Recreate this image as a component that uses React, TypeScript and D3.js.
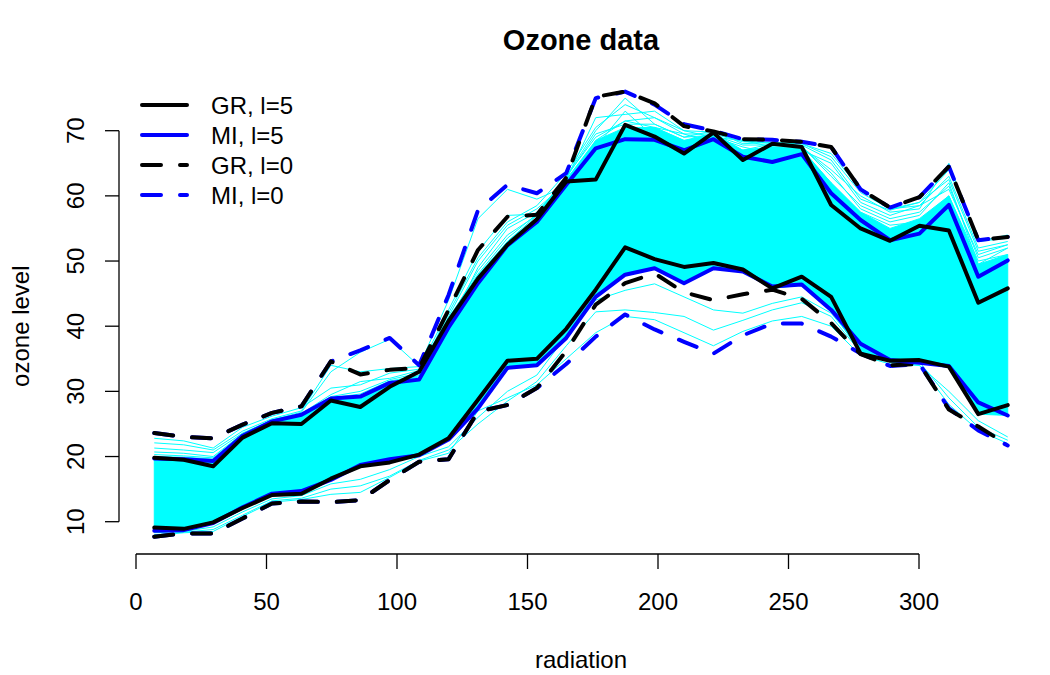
import React from 'react';
import * as d3 from 'd3';

const width = 1050;
const height = 675;
const font = '"Liberation Sans", Arial, Helvetica, sans-serif';

// radiation grid the bands are evaluated on
const radiation = [7, 18.28, 29.55, 40.83, 52.1, 63.38, 74.66, 85.93, 97.21, 108.48, 119.76, 131.03, 142.31, 153.59, 164.86,
  176.14, 187.41, 198.69, 209.97, 221.24, 232.52, 243.79, 255.07, 266.34, 277.62, 288.9, 300.17, 311.45, 322.72, 334];

// bounds, l=5
const grUp5 = [19.8, 19.5, 18.5, 22.9, 25.1, 25.0, 28.6, 27.6, 30.7, 33.0, 40.8, 47.3, 52.5, 56.4, 62.2, 62.5, 70.9, 69.1, 66.5, 69.7,
  65.5, 68.0, 67.5, 58.6, 55.0, 53.1, 55.4, 54.7, 43.6, 45.8];
const grLo5 = [9.1, 8.9, 9.9, 12.1, 14.1, 14.3, 16.6, 18.5, 19.1, 20.3, 22.8, 28.7, 34.7, 35.0, 39.6, 45.6, 52.1, 50.3, 49.1, 49.7,
  48.7, 45.8, 47.6, 44.5, 35.8, 34.7, 34.8, 33.8, 26.5, 27.9];
const miUp5 = [19.7, 19.6, 19.3, 23.2, 25.4, 26.4, 28.9, 29.2, 31.3, 31.8, 39.8, 46.6, 52.4, 56.0, 61.7, 67.3, 68.7, 68.6, 67.0, 68.7,
  66.0, 65.2, 66.4, 60.4, 56.3, 53.2, 54.2, 58.6, 47.6, 50.1];
const miLo5 = [8.6, 8.7, 9.8, 12.2, 14.3, 14.7, 16.4, 18.7, 19.6, 20.2, 22.6, 27.4, 33.6, 34.0, 38.2, 44.5, 47.9, 48.9, 46.6, 48.9,
  48.4, 46.1, 46.4, 42.5, 37.3, 34.8, 34.4, 33.9, 28.3, 26.3];

// bounds, l=0
const grUp0 = [23.6, 23.0, 22.8, 24.9, 26.7, 27.7, 34.6, 32.6, 33.3, 33.6, 42.5, 51.7, 56.8, 57.1, 62.8, 75.2, 76.0, 74.2, 70.7, 69.9,
  68.7, 68.6, 68.3, 67.5, 61.0, 58.2, 59.8, 64.5, 53.2, 53.7];
const grLo0 = [7.7, 8.2, 8.2, 10.5, 12.8, 13.1, 13.0, 13.3, 16.4, 19.2, 19.6, 26.9, 27.9, 30.5, 36.2, 43.3, 46.6, 48.1, 45.2, 44.0,
  44.9, 45.6, 44.2, 40.5, 35.7, 34.0, 34.2, 27.2, 24.6, 21.8];
const miUp0 = [23.6, 23.0, 22.8, 24.9, 26.7, 27.7, 34.6, 36.3, 38.2, 34.0, 44.8, 57.8, 61.7, 60.4, 63.5, 75.0, 76.0, 74.0, 71.0, 70.0,
  68.7, 68.6, 68.3, 67.5, 61.0, 58.2, 59.8, 64.5, 53.2, 53.7];
const miLo0 = [7.7, 8.2, 8.2, 10.5, 12.8, 13.1, 13.0, 13.3, 16.4, 19.2, 19.6, 26.9, 27.9, 30.5, 34.2, 38.4, 41.8, 39.5, 37.6, 35.8,
  38.6, 40.4, 40.4, 38.4, 35.8, 33.9, 34.2, 27.4, 24.0, 21.7];

// dense part of the resampled curves
const cyanTop = [20.0, 19.9, 19.6, 23.3, 25.5, 26.5, 28.9, 29.3, 31.4, 32.2, 41.0, 47.8, 53.0, 56.6, 62.5, 68.5, 70.5, 70.5, 68.5, 69.6,
  67.0, 67.5, 67.2, 62.0, 57.5, 55.0, 56.5, 60.0, 49.5, 51.0];
const cyanBottom = [8.7, 8.7, 9.8, 12.0, 14.0, 14.4, 16.4, 18.4, 19.0, 20.1, 22.5, 27.4, 33.6, 34.0, 38.2, 44.5, 47.8, 48.8, 46.6, 48.8,
  48.3, 45.8, 46.3, 42.5, 35.9, 34.6, 34.3, 33.8, 26.5, 26.3];

// stray resampled curves outside the dense part
const strands = [
  [22.8, 22.4, 21.3, 24.5, 26.2, 27.5, 30.5, 31.0, 32.8, 33.4, 42.5, 51.5, 57.0, 57.2, 63.0, 70.0, 75.0, 71.0, 69.0, 70.0,
    68.0, 68.2, 68.0, 66.0, 60.5, 58.0, 59.0, 64.0, 53.0, 53.5],
  [22.1, 21.8, 21.0, 23.9, 25.8, 27.0, 34.0, 33.0, 33.5, 33.8, 40.0, 49.0, 55.0, 57.5, 62.5, 72.0, 72.5, 73.0, 70.0, 69.0,
    68.5, 67.5, 67.0, 65.0, 59.0, 57.0, 58.5, 61.0, 51.0, 52.5],
  [21.3, 21.0, 20.6, 23.6, 25.6, 26.8, 33.0, 36.0, 38.0, 33.9, 44.0, 56.5, 61.0, 59.5, 61.5, 68.5, 71.5, 70.5, 69.5, 68.0,
    67.0, 68.0, 67.5, 63.5, 58.0, 56.0, 57.0, 62.0, 49.5, 52.0],
  [20.7, 20.5, 20.0, 23.5, 25.6, 26.6, 29.5, 31.5, 32.0, 33.2, 41.5, 50.0, 55.5, 58.0, 62.0, 67.5, 73.0, 69.0, 67.0, 69.0,
    67.5, 66.5, 67.0, 62.0, 57.5, 55.5, 56.0, 60.0, 50.0, 51.0],
  [19.0, 19.2, 19.0, 22.5, 24.8, 25.5, 28.0, 28.5, 30.5, 32.5, 40.0, 47.0, 53.0, 57.0, 62.5, 68.0, 70.0, 70.5, 68.5, 69.0,
    67.0, 67.5, 67.5, 64.0, 60.0, 57.5, 58.0, 65.0, 53.0, 54.0],
  [19.5, 19.4, 19.2, 23.0, 25.2, 26.0, 28.7, 29.0, 31.0, 32.0, 41.0, 48.5, 54.0, 57.0, 63.0, 69.0, 71.5, 72.0, 69.5, 69.5,
    68.3, 68.2, 68.0, 66.5, 61.0, 58.0, 58.5, 63.0, 52.0, 53.0],
  [20.3, 20.1, 19.8, 23.4, 25.4, 26.3, 29.2, 30.0, 31.8, 32.8, 42.0, 50.5, 56.0, 58.5, 63.5, 70.5, 74.0, 72.0, 70.0, 69.8,
    68.5, 68.0, 67.8, 65.5, 59.5, 57.8, 59.0, 62.5, 51.5, 52.5],
  [19.8, 19.6, 19.5, 23.2, 25.3, 26.2, 29.0, 29.6, 31.6, 32.4, 41.3, 48.0, 53.5, 57.2, 62.8, 69.5, 71.0, 71.0, 69.0, 69.3,
    67.8, 67.8, 67.6, 63.0, 58.5, 56.5, 57.5, 61.5, 50.5, 52.0],
  [8.0, 8.4, 8.8, 11.0, 13.2, 13.6, 15.0, 15.5, 17.0, 19.4, 21.0, 25.0, 28.5, 31.5, 37.0, 42.2, 42.5, 42.1, 41.5, 39.4,
    40.9, 42.5, 43.6, 41.5, 36.0, 34.5, 34.0, 30.0, 25.5, 23.0],
  [8.3, 8.5, 9.2, 11.5, 13.5, 14.0, 15.8, 16.5, 18.0, 20.0, 21.5, 26.0, 30.0, 32.5, 38.5, 44.0, 45.5, 46.5, 44.5, 42.5,
    42.0, 43.5, 44.5, 42.0, 36.5, 35.0, 34.5, 29.0, 24.5, 22.5],
  [7.9, 8.3, 8.5, 10.8, 13.0, 13.4, 14.2, 14.5, 16.8, 19.3, 20.5, 27.0, 29.0, 31.0, 35.0, 39.0, 41.5, 41.0, 39.0, 37.0,
    39.2, 40.8, 41.5, 40.0, 35.5, 34.2, 34.0, 28.0, 24.0, 22.0],
];

const xTicks = [0, 50, 100, 150, 200, 250, 300];
const yTicks = [10, 20, 30, 40, 50, 60, 70];

const legendItems = [
  { label: 'GR, l=5', color: '#000000', dashed: false },
  { label: 'MI, l=5', color: '#0000FF', dashed: false },
  { label: 'GR, l=0', color: '#000000', dashed: true },
  { label: 'MI, l=0', color: '#0000FF', dashed: true },
];

const x = d3.scaleLinear().domain([0, 300]).range([136, 919]);
const y = d3.scaleLinear().domain([10, 70]).range([521.7, 130.7]);

const line = d3.line<number>()
  .x((_, i) => x(radiation[i]))
  .y(d => y(d));

const band = d3.area<number>()
  .x((_, i) => x(radiation[i]))
  .y0((_, i) => y(cyanBottom[i]))
  .y1(d => y(d));

const dash = '19 19';

export default function App() {
  const bounds = [
    { data: miUp0, color: '#0000FF', dashed: true },
    { data: miLo0, color: '#0000FF', dashed: true },
    { data: grUp0, color: '#000000', dashed: true },
    { data: grLo0, color: '#000000', dashed: true },
    { data: miUp5, color: '#0000FF', dashed: false },
    { data: miLo5, color: '#0000FF', dashed: false },
    { data: grUp5, color: '#000000', dashed: false },
    { data: grLo5, color: '#000000', dashed: false },
  ];

  return (
    <svg width={width} height={height} style={{ position: 'absolute', left: 0, top: 0, background: '#fff' }}
      fontFamily={font}>
      <text x={581} y={50} textAnchor="middle" fontSize={29} fontWeight="bold">Ozone data</text>

      {/* resampled curves */}
      <path d={band(cyanTop) || ''} fill="#00FFFF" stroke="#00FFFF" strokeWidth={1} />
      {strands.map((s, i) => (
        <path key={i} d={line(s) || ''} fill="none" stroke="#00FFFF" strokeWidth={1} />
      ))}

      {bounds.map((b, i) => (
        <path key={i} d={line(b.data) || ''} fill="none" stroke={b.color} strokeWidth={4}
          strokeDasharray={b.dashed ? dash : undefined} strokeLinecap="round" strokeLinejoin="round" />
      ))}

      {/* x axis */}
      <g stroke="#000" strokeWidth={1.3}>
        <line x1={x(0)} x2={x(300)} y1={554} y2={554} />
        {xTicks.map(t => <line key={t} x1={x(t)} x2={x(t)} y1={554} y2={569} />)}
      </g>
      {xTicks.map(t => (
        <text key={t} x={x(t)} y={610} textAnchor="middle" fontSize={24}>{t}</text>
      ))}
      <text x={581} y={668} textAnchor="middle" fontSize={24}>radiation</text>

      {/* y axis */}
      <g stroke="#000" strokeWidth={1.3}>
        <line x1={119} x2={119} y1={y(10)} y2={y(70)} />
        {yTicks.map(t => <line key={t} x1={105} x2={119} y1={y(t)} y2={y(t)} />)}
      </g>
      {yTicks.map(t => (
        <text key={t} transform={`translate(83.5,${y(t)}) rotate(-90)`} textAnchor="middle" fontSize={24}>{t}</text>
      ))}
      <text transform={`translate(28.5,${(y(10) + y(70)) / 2}) rotate(-90)`} textAnchor="middle" fontSize={24}>ozone level</text>

      {/* legend */}
      {legendItems.map((d, i) => {
        const ly = 105 + i * 30;
        return (
          <g key={d.label}>
            <line x1={142} x2={187} y1={ly} y2={ly} stroke={d.color} strokeWidth={4}
              strokeDasharray={d.dashed ? dash : undefined} strokeLinecap="round" />
            <text x={211} y={ly + 8.5} fontSize={24}>{d.label}</text>
          </g>
        );
      })}
    </svg>
  );
}
